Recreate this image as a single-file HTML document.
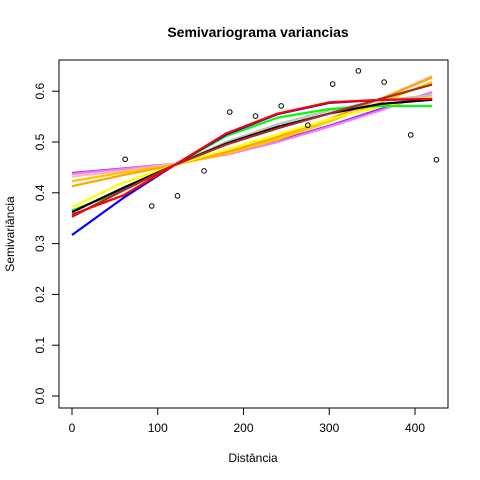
<!DOCTYPE html>
<html><head><meta charset="utf-8"><style>
body{margin:0;background:#fff;}
svg{display:block;font-family:"Liberation Sans",Arial,sans-serif;}
</style></head><body>
<svg id="chart" width="480" height="480" viewBox="0 0 480 480">
<text x="258" y="37" text-anchor="middle" font-size="14" font-weight="bold">Semivariograma variancias</text>
<text x="253" y="462" text-anchor="middle" font-size="12">Distância</text>
<text transform="translate(14,234) rotate(-90)" text-anchor="middle" font-size="12">Semivariância</text>
<rect x="59" y="60" width="389" height="348" fill="none" stroke="#000"/>
<g id="axes"></g><g id="lines"></g><g id="pts"></g>
</svg>
<script>
const xTicks=[0,100,200,300,400];
const yTicks=[0.0,0.1,0.2,0.3,0.4,0.5,0.6];
const ptX=[62,93,123,154,184,214,244,275,304,334,364,395,425];
const ptY=[0.466,0.374,0.394,0.443,0.559,0.551,0.571,0.533,0.614,0.640,0.618,0.514,0.465];
const gridX=[0,60,120,180,240,300,360,420];
const blue=[0.317,0.39,0.455,0.515,0.555,0.577,0.583,0.584];
const green=[0.365,0.405,0.455,0.512,0.548,0.565,0.571,0.571];
const black=[0.362,0.41,0.455,0.497,0.530,0.556,0.575,0.583];
const gray=[0.352,0.405,0.455,0.500,0.535,0.562,0.582,0.592];
const brown=[0.353,0.405,0.455,0.495,0.527,0.556,0.585,0.613];
const yellow=[0.372,0.42,0.455,0.485,0.515,0.545,0.57,0.59];
const orange=[0.413,0.435,0.455,0.48,0.51,0.545,0.585,0.627];
const gold=[0.423,0.44,0.455,0.477,0.505,0.54,0.578,0.618];
const pink=[0.432,0.443,0.457,0.48,0.51,0.545,0.585,0.63];
const violet=[0.437,0.447,0.457,0.475,0.5,0.53,0.562,0.598];
const purple=[0.439,0.448,0.457,0.477,0.502,0.532,0.565,0.598];
const red=[0.357,0.395,0.455,0.517,0.556,0.578,0.583,0.585];
const X=v=>72+v*0.8575, Y=v=>396-v*508;
const NS="http://www.w3.org/2000/svg";
function mk(t,a,p){const e=document.createElementNS(NS,t);for(const k in a)e.setAttribute(k,a[k]);p.appendChild(e);return e;}
const ax=document.getElementById('axes');
mk('line',{x1:X(0),x2:X(400),y1:408,y2:408,stroke:'#000'},ax);
xTicks.forEach(t=>{mk('line',{x1:X(t),x2:X(t),y1:408,y2:415,stroke:'#000'},ax);
const tx=mk('text',{x:X(t),y:432,'text-anchor':'middle','font-size':12},ax);tx.textContent=t;

});
mk('line',{x1:59,x2:59,y1:Y(0),y2:Y(0.6),stroke:'#000'},ax);
yTicks.forEach(t=>{mk('line',{x1:52,x2:59,y1:Y(t),y2:Y(t),stroke:'#000'},ax);
const tx=mk('text',{transform:`translate(44,${Y(t)}) rotate(-90)`,'text-anchor':'middle','font-size':12},ax);tx.textContent=t.toFixed(1);

});
const series=[[purple,'#a020f0'],[violet,'#ee82ee'],[pink,'#ffb6c1'],[gold,'#ffc800'],[orange,'#ffa500'],[yellow,'#ffff00'],[gray,'#bebebe'],[green,'#00ff00'],[black,'#000000'],[brown,'#a52a2a'],[blue,'#0000ff'],[red,'#ff0000']];
const lg=document.getElementById('lines');
series.forEach(([vals,col])=>{
 const pts=vals.map((v,i)=>`${X(gridX[i])},${Y(v)}`).join(' ');
 const p=mk('polyline',{points:pts,fill:'none',stroke:col,'stroke-width':2.2,'stroke-linejoin':'round'},lg);
 
 
});
const pg=document.getElementById('pts');
ptX.forEach((x,i)=>{const c=mk('circle',{cx:X(x),cy:Y(ptY[i]),r:2.3,fill:'none',stroke:'#000','stroke-width':1},pg);

});
</script>
</body></html>
